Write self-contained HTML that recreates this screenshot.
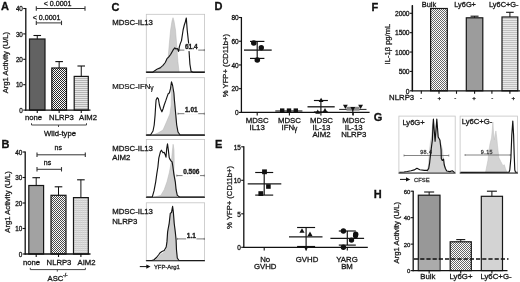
<!DOCTYPE html>
<html><head><meta charset="utf-8"><style>
html,body{margin:0;padding:0;background:#fff;width:520px;height:282px;overflow:hidden}
svg{display:block;filter:blur(0.3px);font-family:"Liberation Sans",sans-serif}
</style></head><body>
<svg width="520" height="282" viewBox="0 0 520 282">
<defs>
<pattern id="chk" width="2" height="2" patternUnits="userSpaceOnUse"><rect width="2" height="2" fill="#fdfdfd"/><rect width="1" height="1" fill="#262626"/><rect x="1" y="1" width="1" height="1" fill="#262626"/></pattern>
<pattern id="chkL" width="2" height="2" patternUnits="userSpaceOnUse"><rect width="2" height="2" fill="#fdfdfd"/><rect width="1" height="1" fill="#666"/><rect x="1" y="1" width="1" height="1" fill="#666"/></pattern>
<pattern id="chk2" width="2" height="2" patternUnits="userSpaceOnUse"><rect width="2" height="2" fill="#fafafa"/><rect width="1" height="1" fill="#4a4a4a"/><rect x="1" y="1" width="1" height="1" fill="#4a4a4a"/></pattern>
<pattern id="hstr" width="2" height="2" patternUnits="userSpaceOnUse"><rect width="2" height="2" fill="#e6e6e6"/><rect width="2" height="1" fill="#b4b4b4"/></pattern>
<pattern id="hstr2" width="2" height="2" patternUnits="userSpaceOnUse"><rect width="2" height="2" fill="#e8e8e8"/><rect width="2" height="1" fill="#c0c0c0"/></pattern>
<pattern id="grid" width="2" height="2" patternUnits="userSpaceOnUse"><rect width="2" height="2" fill="#e4e4e4"/><rect width="2" height="1" fill="#cacaca"/><rect width="0.5" height="2" fill="#d4d4d4"/></pattern>
</defs>
<rect width="520" height="282" fill="#fff"/>
<text x="1" y="10.3" font-size="11" text-anchor="start" font-weight="bold" fill="#111" stroke="#111" stroke-width="0.3" >A</text><text x="1.6" y="148.3" font-size="11" text-anchor="start" font-weight="bold" fill="#111" stroke="#111" stroke-width="0.3" >B</text><text x="111.6" y="10.9" font-size="11" text-anchor="start" font-weight="bold" fill="#111" stroke="#111" stroke-width="0.3" >C</text><text x="214.5" y="10.2" font-size="11" text-anchor="start" font-weight="bold" fill="#111" stroke="#111" stroke-width="0.3" >D</text><text x="215" y="148.1" font-size="11" text-anchor="start" font-weight="bold" fill="#111" stroke="#111" stroke-width="0.3" >E</text><text x="371.5" y="10.5" font-size="11" text-anchor="start" font-weight="bold" fill="#111" stroke="#111" stroke-width="0.3" >F</text><text x="373.8" y="121.3" font-size="11" text-anchor="start" font-weight="bold" fill="#111" stroke="#111" stroke-width="0.3" >G</text><text x="373.7" y="198" font-size="11" text-anchor="start" font-weight="bold" fill="#111" stroke="#111" stroke-width="0.3" >H</text><line x1="25.8" y1="8" x2="25.8" y2="110.7" stroke="#111" stroke-width="1.3" /><line x1="23.2" y1="110.1" x2="25.8" y2="110.1" stroke="#111" stroke-width="1.1" /><text x="22.75" y="112.78" font-size="6.37" text-anchor="end" font-weight="normal" fill="#161616" stroke="#161616" stroke-width="0.3" letter-spacing="-0.15">0</text><line x1="23.2" y1="84.7" x2="25.8" y2="84.7" stroke="#111" stroke-width="1.1" /><text x="22.75" y="87.38" font-size="6.37" text-anchor="end" font-weight="normal" fill="#161616" stroke="#161616" stroke-width="0.3" letter-spacing="-0.15">10</text><line x1="23.2" y1="59.3" x2="25.8" y2="59.3" stroke="#111" stroke-width="1.1" /><text x="22.75" y="61.98" font-size="6.37" text-anchor="end" font-weight="normal" fill="#161616" stroke="#161616" stroke-width="0.3" letter-spacing="-0.15">20</text><line x1="23.2" y1="33.9" x2="25.8" y2="33.9" stroke="#111" stroke-width="1.1" /><text x="22.75" y="36.58" font-size="6.37" text-anchor="end" font-weight="normal" fill="#161616" stroke="#161616" stroke-width="0.3" letter-spacing="-0.15">30</text><line x1="23.2" y1="8.5" x2="25.8" y2="8.5" stroke="#111" stroke-width="1.1" /><text x="22.75" y="11.18" font-size="6.37" text-anchor="end" font-weight="normal" fill="#161616" stroke="#161616" stroke-width="0.3" letter-spacing="-0.15">40</text><line x1="37.25" y1="39" x2="37.25" y2="35.5" stroke="#111" stroke-width="1.0" /><line x1="33.45" y1="35.5" x2="41.05" y2="35.5" stroke="#111" stroke-width="1.1" /><rect x="29.5" y="39" width="15.5" height="71.1" fill="#626262" stroke="#161616" stroke-width="1.2"/><line x1="37.25" y1="110.1" x2="37.25" y2="113.1" stroke="#111" stroke-width="1.1" /><line x1="59.15" y1="68" x2="59.15" y2="61.6" stroke="#111" stroke-width="1.0" /><line x1="55.35" y1="61.6" x2="62.95" y2="61.6" stroke="#111" stroke-width="1.1" /><rect x="51.8" y="68" width="14.7" height="42.1" fill="url(#chk)" stroke="#161616" stroke-width="1.2"/><line x1="59.15" y1="110.1" x2="59.15" y2="113.1" stroke="#111" stroke-width="1.1" /><line x1="81.25" y1="76.4" x2="81.25" y2="66" stroke="#111" stroke-width="1.0" /><line x1="77.45" y1="66" x2="85.05" y2="66" stroke="#111" stroke-width="1.1" /><rect x="74.2" y="76.4" width="14.1" height="33.7" fill="url(#hstr)" stroke="#161616" stroke-width="1.2"/><line x1="81.25" y1="110.1" x2="81.25" y2="113.1" stroke="#111" stroke-width="1.1" /><line x1="25.2" y1="110.1" x2="90.5" y2="110.1" stroke="#111" stroke-width="1.3" /><line x1="36.3" y1="8.5" x2="85" y2="8.5" stroke="#333" stroke-width="1.0" /><line x1="36.3" y1="6.3" x2="36.3" y2="10.7" stroke="#333" stroke-width="1.1" /><line x1="85" y1="6.3" x2="85" y2="10.7" stroke="#333" stroke-width="1.1" /><text x="57.6" y="6.1" font-size="7.1" text-anchor="middle" font-weight="normal" fill="#161616" stroke="#161616" stroke-width="0.3" >&lt; 0.0001</text><line x1="36.3" y1="22.9" x2="61.5" y2="22.9" stroke="#333" stroke-width="1.0" /><line x1="36.3" y1="20.7" x2="36.3" y2="25.1" stroke="#333" stroke-width="1.1" /><line x1="61.5" y1="20.7" x2="61.5" y2="25.1" stroke="#333" stroke-width="1.1" /><text x="46.6" y="20.1" font-size="7.1" text-anchor="middle" font-weight="normal" fill="#161616" stroke="#161616" stroke-width="0.3" >&lt; 0.0001</text><text x="33.5" y="120.3" font-size="7.7" text-anchor="middle" font-weight="normal" fill="#161616" stroke="#161616" stroke-width="0.3" >none</text><text x="61.5" y="120.3" font-size="7.7" text-anchor="middle" font-weight="normal" fill="#161616" stroke="#161616" stroke-width="0.3" >NLRP3</text><text x="88.1" y="120.3" font-size="7.7" text-anchor="middle" font-weight="normal" fill="#161616" stroke="#161616" stroke-width="0.3" >AIM2</text><path d="M31.5,123.2 L31.5,125 L86.5,125 L86.5,123.2 M58.5,125 L58.5,127" fill="none" stroke="#333" stroke-width="0.9"/><text x="60" y="136.2" font-size="7.7" text-anchor="middle" font-weight="normal" fill="#161616" stroke="#161616" stroke-width="0.3" >Wild-type</text><text x="0" y="0" font-size="7.7" text-anchor="middle" fill="#222" stroke="#222" stroke-width="0.3" transform="translate(7.8,62.6) rotate(-90)">Arg1 Activity (U/L)</text><line x1="25.2" y1="151.5" x2="25.2" y2="254.6" stroke="#111" stroke-width="1.3" /><line x1="22.6" y1="254" x2="25.2" y2="254" stroke="#111" stroke-width="1.1" /><text x="22.15" y="256.68" font-size="6.37" text-anchor="end" font-weight="normal" fill="#161616" stroke="#161616" stroke-width="0.3" letter-spacing="-0.15">0</text><line x1="22.6" y1="228.5" x2="25.2" y2="228.5" stroke="#111" stroke-width="1.1" /><text x="22.15" y="231.18" font-size="6.37" text-anchor="end" font-weight="normal" fill="#161616" stroke="#161616" stroke-width="0.3" letter-spacing="-0.15">10</text><line x1="22.6" y1="203" x2="25.2" y2="203" stroke="#111" stroke-width="1.1" /><text x="22.15" y="205.68" font-size="6.37" text-anchor="end" font-weight="normal" fill="#161616" stroke="#161616" stroke-width="0.3" letter-spacing="-0.15">20</text><line x1="22.6" y1="177.5" x2="25.2" y2="177.5" stroke="#111" stroke-width="1.1" /><text x="22.15" y="180.18" font-size="6.37" text-anchor="end" font-weight="normal" fill="#161616" stroke="#161616" stroke-width="0.3" letter-spacing="-0.15">30</text><line x1="22.6" y1="152" x2="25.2" y2="152" stroke="#111" stroke-width="1.1" /><text x="22.15" y="154.68" font-size="6.37" text-anchor="end" font-weight="normal" fill="#161616" stroke="#161616" stroke-width="0.3" letter-spacing="-0.15">40</text><line x1="36.2" y1="185.5" x2="36.2" y2="177.7" stroke="#111" stroke-width="1.0" /><line x1="32.4" y1="177.7" x2="40" y2="177.7" stroke="#111" stroke-width="1.1" /><rect x="28.8" y="185.5" width="14.8" height="68.5" fill="#a2a2a2" stroke="#161616" stroke-width="1.2"/><line x1="36.2" y1="254" x2="36.2" y2="257" stroke="#111" stroke-width="1.1" /><line x1="58.5" y1="195.3" x2="58.5" y2="186.8" stroke="#111" stroke-width="1.0" /><line x1="54.7" y1="186.8" x2="62.3" y2="186.8" stroke="#111" stroke-width="1.1" /><rect x="51" y="195.3" width="15" height="58.7" fill="url(#chk2)" stroke="#161616" stroke-width="1.2"/><line x1="58.5" y1="254" x2="58.5" y2="257" stroke="#111" stroke-width="1.1" /><line x1="80.9" y1="197.6" x2="80.9" y2="179.8" stroke="#111" stroke-width="1.0" /><line x1="77.1" y1="179.8" x2="84.7" y2="179.8" stroke="#111" stroke-width="1.1" /><rect x="73.5" y="197.6" width="14.8" height="56.4" fill="url(#grid)" stroke="#161616" stroke-width="1.2"/><line x1="80.9" y1="254" x2="80.9" y2="257" stroke="#111" stroke-width="1.1" /><line x1="24.6" y1="254" x2="90.5" y2="254" stroke="#111" stroke-width="1.3" /><line x1="37" y1="154.8" x2="85.3" y2="154.8" stroke="#333" stroke-width="1.0" /><line x1="37" y1="152.6" x2="37" y2="157" stroke="#333" stroke-width="1.1" /><line x1="85.3" y1="152.6" x2="85.3" y2="157" stroke="#333" stroke-width="1.1" /><text x="58.2" y="149.8" font-size="7.0" text-anchor="middle" font-weight="normal" fill="#161616" stroke="#161616" stroke-width="0.3" >ns</text><line x1="37" y1="169.3" x2="61.5" y2="169.3" stroke="#333" stroke-width="1.0" /><line x1="37" y1="167.1" x2="37" y2="171.5" stroke="#333" stroke-width="1.1" /><line x1="61.5" y1="167.1" x2="61.5" y2="171.5" stroke="#333" stroke-width="1.1" /><text x="47.5" y="165.3" font-size="7.0" text-anchor="middle" font-weight="normal" fill="#161616" stroke="#161616" stroke-width="0.3" >ns</text><text x="31.5" y="264.5" font-size="7.7" text-anchor="middle" font-weight="normal" fill="#161616" stroke="#161616" stroke-width="0.3" >none</text><text x="59" y="264.5" font-size="7.7" text-anchor="middle" font-weight="normal" fill="#161616" stroke="#161616" stroke-width="0.3" >NLRP3</text><text x="86.5" y="264.5" font-size="7.7" text-anchor="middle" font-weight="normal" fill="#161616" stroke="#161616" stroke-width="0.3" >AIM2</text><path d="M30.3,267.8 L30.3,269.6 L85.4,269.6 L85.4,267.8 M57.3,269.6 L57.3,271.6" fill="none" stroke="#333" stroke-width="0.9"/><text x="47.6" y="281.3" font-size="7.7" text-anchor="start" font-weight="normal" fill="#161616" stroke="#161616" stroke-width="0.3" >ASC</text><text x="63" y="277.4" font-size="5.0" text-anchor="start" font-weight="normal" fill="#161616" stroke="#161616" stroke-width="0.3" >-/-</text><text x="0" y="0" font-size="7.7" text-anchor="middle" fill="#222" stroke="#222" stroke-width="0.3" transform="translate(10.2,202) rotate(-90)">Arg1 Activity (U/L)</text><rect x="146.3" y="14.3" width="58.3" height="57.8" fill="#fff" stroke="#c4c4c4" stroke-width="0.8"/><polyline points="154,72.5 158,70 162,67.5 166,63 168,59 169.3,44 170.6,30 172,21 173,17.7 174,21 175.5,30 176.6,44 177.9,61.7 179.1,72.5" fill="#cdcdcd" stroke="#b5b5b5" stroke-width="0.5" stroke-linejoin="round" /><polyline points="146.5,72.3 152.8,72.3 155.1,70.4 157.4,69 160.2,67.9 163,65.3 165.3,62.5 167,58.7 168.8,56.9 170.6,54.5 173,50.2 174.8,47.8 176,49 177.3,48.4 178.5,51.4 179.4,46.6 180.3,43.6 181.5,40.6 183.1,30 184.3,25 185.3,22 186.3,18 187.2,30 188.7,44 189.1,52 189.9,64.1 191.1,71.3 192.9,72.3 204.4,72.3" fill="none" stroke="#151515" stroke-width="1.15" stroke-linejoin="round" /><line x1="145.9" y1="72.1" x2="205" y2="72.1" stroke="#1c1c1c" stroke-width="1.1" /><line x1="179.6" y1="50.1" x2="204.3" y2="50.1" stroke="#555" stroke-width="0.8" /><line x1="179.6" y1="49.1" x2="179.6" y2="51.1" stroke="#555" stroke-width="0.7" /><line x1="204.3" y1="49.1" x2="204.3" y2="51.1" stroke="#555" stroke-width="0.7" /><rect x="184.38" y="43.6" width="13.85" height="7.5" fill="#fff" stroke="none" stroke-width="1"/><text x="191.3" y="48.7" font-size="6.5" text-anchor="middle" font-weight="bold" fill="#1a1a1a" stroke="#1a1a1a" stroke-width="0.3" >61.4</text><rect x="146.3" y="77.7" width="58.3" height="57.4" fill="#fff" stroke="#c4c4c4" stroke-width="0.8"/><polyline points="152.8,135.2 158,133 163,130 166.5,122 169.9,114 171.2,105 171.3,95 171.6,86.6 173,90 174,98 175.5,115 176.5,125 178,133 179,135.2" fill="#cdcdcd" stroke="#b5b5b5" stroke-width="0.5" stroke-linejoin="round" /><polyline points="146.5,135 150.5,135 153,131 154.2,125 155.1,115 155.7,105 156.1,100 157.2,97.7 158.4,99 159.4,105 160.4,108.5 161.9,111.8 163,109 164.2,105 165.7,100.9 167.3,96.1 168.3,93.5 169.4,93 170.5,88.7 171.5,81.8 172.6,85.5 173.9,93 174.4,100 174.7,103 175.8,115 176.7,125 178,132 180.1,135 204.4,135" fill="none" stroke="#151515" stroke-width="1.15" stroke-linejoin="round" /><line x1="145.9" y1="135.1" x2="205" y2="135.1" stroke="#1c1c1c" stroke-width="1.1" /><line x1="178" y1="113.7" x2="204.3" y2="113.7" stroke="#555" stroke-width="0.8" /><line x1="178" y1="112.7" x2="178" y2="114.7" stroke="#555" stroke-width="0.7" /><line x1="204.3" y1="112.7" x2="204.3" y2="114.7" stroke="#555" stroke-width="0.7" /><rect x="184.38" y="107.2" width="13.85" height="7.5" fill="#fff" stroke="none" stroke-width="1"/><text x="191.3" y="112.3" font-size="6.5" text-anchor="middle" font-weight="bold" fill="#1a1a1a" stroke="#1a1a1a" stroke-width="0.3" >1.01</text><rect x="146.3" y="139.4" width="58.3" height="57.8" fill="#fff" stroke="#c4c4c4" stroke-width="0.8"/><polyline points="154,197.2 160.8,195.4 164.2,189.7 167,181.8 169.3,172.7 170.4,167 171.5,160 172.5,150 173.1,144.3 174,150 174.2,160 174,170 175,180 176.1,192 176.7,197.2" fill="#cdcdcd" stroke="#b5b5b5" stroke-width="0.5" stroke-linejoin="round" /><polyline points="146.5,197 151,197 152.3,196.8 154,190.9 155.7,181.8 156.8,173.8 157.9,167 158.8,158.1 160.4,151.8 161.4,150.2 163,152.8 164.1,152.3 165.1,154.4 166,157.1 166.7,148.6 167.5,143.8 168.3,149.6 169.2,157.6 169.9,159.2 171,160.8 172.1,161.9 172.8,166 173.8,173.8 175.3,181.8 176.1,189.7 177.3,195.4 179.5,197 204.4,197" fill="none" stroke="#151515" stroke-width="1.15" stroke-linejoin="round" /><line x1="145.9" y1="197.2" x2="205" y2="197.2" stroke="#1c1c1c" stroke-width="1.1" /><line x1="176.8" y1="175.6" x2="204.3" y2="175.6" stroke="#555" stroke-width="0.8" /><line x1="176.8" y1="174.6" x2="176.8" y2="176.6" stroke="#555" stroke-width="0.7" /><line x1="204.3" y1="174.6" x2="204.3" y2="176.6" stroke="#555" stroke-width="0.7" /><rect x="182.57" y="169.1" width="17.46" height="7.5" fill="#fff" stroke="none" stroke-width="1"/><text x="191.3" y="174.2" font-size="6.5" text-anchor="middle" font-weight="bold" fill="#1a1a1a" stroke="#1a1a1a" stroke-width="0.3" >0.506</text><rect x="146.3" y="202.8" width="58.3" height="58" fill="#fff" stroke="#c4c4c4" stroke-width="0.8"/><polyline points="155.1,260.7 160.8,254.4 164.2,252.2 166.5,249.3 167.2,241 167.8,232 169.2,224 170.5,215 171.5,213 172.5,208 173.3,213 174.1,224 175.1,232 175.9,240 176.3,250 177,258 178.5,260.7" fill="#cdcdcd" stroke="#b5b5b5" stroke-width="0.5" stroke-linejoin="round" /><polyline points="146.5,260.5 151.7,260.5 154,259.8 156.2,257.8 158.5,255 160.2,252.7 161.9,251.6 164.2,250.5 166.2,247 167,241.4 167.6,232 168.3,228 169.2,223.3 170.3,213.2 171.5,212.6 172.6,206.3 173.4,212.6 174.2,223.3 175.3,232 176.1,240 176.5,250 177.3,258 179,260.5 204.4,260.5" fill="none" stroke="#151515" stroke-width="1.15" stroke-linejoin="round" /><line x1="145.9" y1="260.8" x2="205" y2="260.8" stroke="#1c1c1c" stroke-width="1.1" /><line x1="177.3" y1="238.9" x2="204.3" y2="238.9" stroke="#555" stroke-width="0.8" /><line x1="177.3" y1="237.9" x2="177.3" y2="239.9" stroke="#555" stroke-width="0.7" /><line x1="204.3" y1="237.9" x2="204.3" y2="239.9" stroke="#555" stroke-width="0.7" /><rect x="186.18" y="232.4" width="10.23" height="7.5" fill="#fff" stroke="none" stroke-width="1"/><text x="191.3" y="237.5" font-size="6.5" text-anchor="middle" font-weight="bold" fill="#1a1a1a" stroke="#1a1a1a" stroke-width="0.3" >1.1</text><text x="112.2" y="25.4" font-size="7.8" text-anchor="start" font-weight="normal" fill="#161616" stroke="#161616" stroke-width="0.3" >MDSC-IL13</text><text x="112.2" y="151.2" font-size="7.8" text-anchor="start" font-weight="normal" fill="#161616" stroke="#161616" stroke-width="0.3" >MDSC-IL13</text><text x="112.2" y="160.3" font-size="7.8" text-anchor="start" font-weight="normal" fill="#161616" stroke="#161616" stroke-width="0.3" >AIM2</text><text x="112.2" y="214.2" font-size="7.8" text-anchor="start" font-weight="normal" fill="#161616" stroke="#161616" stroke-width="0.3" >MDSC-IL13</text><text x="112.2" y="223.9" font-size="7.8" text-anchor="start" font-weight="normal" fill="#161616" stroke="#161616" stroke-width="0.3" >NLRP3</text><text x="112.2" y="88.9" font-size="7.8" fill="#161616" stroke="#161616" stroke-width="0.22">MDSC-IFN<tspan font-size="6.6" dy="0.8">&#947;</tspan></text><line x1="139.8" y1="266.6" x2="147" y2="266.6" stroke="#111" stroke-width="1.0" /><path d="M146.3,264.5 L150.5,266.6 L146.3,268.7 Z" fill="#111"/><text x="153.9" y="269.3" font-size="5.9" text-anchor="start" font-weight="normal" fill="#2a2a2a" stroke="#2a2a2a" stroke-width="0.3" >YFP-Arg1</text><line x1="241.4" y1="17" x2="241.4" y2="113" stroke="#111" stroke-width="1.3" /><line x1="238.8" y1="112.4" x2="241.4" y2="112.4" stroke="#111" stroke-width="1.1" /><text x="238.35" y="115.12" font-size="6.48" text-anchor="end" font-weight="normal" fill="#161616" stroke="#161616" stroke-width="0.3" letter-spacing="-0.15">0</text><line x1="238.8" y1="88.68" x2="241.4" y2="88.68" stroke="#111" stroke-width="1.1" /><text x="238.35" y="91.39" font-size="6.48" text-anchor="end" font-weight="normal" fill="#161616" stroke="#161616" stroke-width="0.3" letter-spacing="-0.15">20</text><line x1="238.8" y1="64.95" x2="241.4" y2="64.95" stroke="#111" stroke-width="1.1" /><text x="238.35" y="67.67" font-size="6.48" text-anchor="end" font-weight="normal" fill="#161616" stroke="#161616" stroke-width="0.3" letter-spacing="-0.15">40</text><line x1="238.8" y1="41.23" x2="241.4" y2="41.23" stroke="#111" stroke-width="1.1" /><text x="238.35" y="43.94" font-size="6.48" text-anchor="end" font-weight="normal" fill="#161616" stroke="#161616" stroke-width="0.3" letter-spacing="-0.15">60</text><line x1="238.8" y1="17.5" x2="241.4" y2="17.5" stroke="#111" stroke-width="1.1" /><text x="238.35" y="20.22" font-size="6.48" text-anchor="end" font-weight="normal" fill="#161616" stroke="#161616" stroke-width="0.3" letter-spacing="-0.15">80</text><line x1="240.8" y1="112.4" x2="369.6" y2="112.4" stroke="#111" stroke-width="1.3" /><line x1="257.2" y1="112.4" x2="257.2" y2="115.5" stroke="#111" stroke-width="1.1" /><line x1="289.4" y1="112.4" x2="289.4" y2="115.5" stroke="#111" stroke-width="1.1" /><line x1="320.9" y1="112.4" x2="320.9" y2="115.5" stroke="#111" stroke-width="1.1" /><line x1="353.2" y1="112.4" x2="353.2" y2="115.5" stroke="#111" stroke-width="1.1" /><line x1="257.2" y1="41.4" x2="257.2" y2="58.4" stroke="#111" stroke-width="1.15" /><line x1="250" y1="41.4" x2="264.4" y2="41.4" stroke="#111" stroke-width="1.15" /><line x1="250" y1="58.4" x2="264.4" y2="58.4" stroke="#111" stroke-width="1.15" /><line x1="244" y1="50.1" x2="271.7" y2="50.1" stroke="#1a1a1a" stroke-width="1.35" /><circle cx="253.8" cy="43" r="2.8" fill="#111"/><circle cx="261.3" cy="47.8" r="2.7" fill="#111"/><circle cx="257.3" cy="60" r="2.8" fill="#111"/><line x1="275.3" y1="111" x2="302.4" y2="111" stroke="#222" stroke-width="1.2" /><rect x="280" y="108.4" width="4.4" height="4.4" fill="#111"/><rect x="286.8" y="108.4" width="4.4" height="4.4" fill="#111"/><rect x="293.6" y="108.4" width="4.4" height="4.4" fill="#111"/><line x1="320.9" y1="100.5" x2="320.9" y2="112" stroke="#111" stroke-width="1.15" /><line x1="313.9" y1="100.5" x2="327.9" y2="100.5" stroke="#111" stroke-width="1.15" /><line x1="313.9" y1="112" x2="327.9" y2="112" stroke="#111" stroke-width="1.15" /><line x1="307.5" y1="106.8" x2="334.7" y2="106.8" stroke="#1a1a1a" stroke-width="1.35" /><path d="M321.1,97.64 L323.5,101.96 L318.7,101.96 Z" fill="#111"/><path d="M317.7,109.44 L320.1,113.76 L315.3,113.76 Z" fill="#111"/><path d="M325,108.04 L327.4,112.36 L322.6,112.36 Z" fill="#111"/><line x1="339.2" y1="109.4" x2="366.5" y2="109.4" stroke="#222" stroke-width="1.0" /><rect x="346.5" y="106.8" width="13" height="3.9" fill="#8a8a8a" stroke="none" stroke-width="1"/><line x1="352.8" y1="107" x2="352.8" y2="115.3" stroke="#111" stroke-width="1.1" /><path d="M345.4,109.06 L347.8,104.74 L343,104.74 Z" fill="#111"/><path d="M352.8,111.36 L355.2,107.04 L350.4,107.04 Z" fill="#111"/><path d="M360.6,109.06 L363,104.74 L358.2,104.74 Z" fill="#111"/><text x="257.2" y="122.8" font-size="7.8" text-anchor="middle" font-weight="normal" fill="#161616" stroke="#161616" stroke-width="0.3" >MDSC</text><text x="257.2" y="130" font-size="7.8" text-anchor="middle" font-weight="normal" fill="#161616" stroke="#161616" stroke-width="0.3" >IL13</text><text x="289.4" y="122.8" font-size="7.8" text-anchor="middle" font-weight="normal" fill="#161616" stroke="#161616" stroke-width="0.3" >MDSC</text><text x="289.4" y="130" font-size="7.8" text-anchor="middle" font-weight="normal" fill="#161616" stroke="#161616" stroke-width="0.3" >IFN<tspan font-size="6.6" dy="0.8">&#947;</tspan></text><text x="321.5" y="122.8" font-size="7.8" text-anchor="middle" font-weight="normal" fill="#161616" stroke="#161616" stroke-width="0.3" >MDSC</text><text x="321.5" y="130" font-size="7.8" text-anchor="middle" font-weight="normal" fill="#161616" stroke="#161616" stroke-width="0.3" >IL-13</text><text x="321.5" y="137.2" font-size="7.8" text-anchor="middle" font-weight="normal" fill="#161616" stroke="#161616" stroke-width="0.3" >AIM2</text><text x="353.7" y="122.8" font-size="7.8" text-anchor="middle" font-weight="normal" fill="#161616" stroke="#161616" stroke-width="0.3" >MDSC</text><text x="353.7" y="130" font-size="7.8" text-anchor="middle" font-weight="normal" fill="#161616" stroke="#161616" stroke-width="0.3" >IL-13</text><text x="353.7" y="137.2" font-size="7.8" text-anchor="middle" font-weight="normal" fill="#161616" stroke="#161616" stroke-width="0.3" >NLRP3</text><text x="0" y="0" font-size="7.7" text-anchor="middle" fill="#222" stroke="#222" stroke-width="0.3" transform="translate(227.5,65.6) rotate(-90)">% YFP+ (CD11b+)</text><line x1="243.8" y1="146.3" x2="243.8" y2="247.9" stroke="#111" stroke-width="1.3" /><line x1="241.2" y1="247.3" x2="243.8" y2="247.3" stroke="#111" stroke-width="1.1" /><text x="240.75" y="250.02" font-size="6.48" text-anchor="end" font-weight="normal" fill="#161616" stroke="#161616" stroke-width="0.3" letter-spacing="-0.15">0</text><line x1="241.2" y1="213.8" x2="243.8" y2="213.8" stroke="#111" stroke-width="1.1" /><text x="240.75" y="216.52" font-size="6.48" text-anchor="end" font-weight="normal" fill="#161616" stroke="#161616" stroke-width="0.3" letter-spacing="-0.15">5</text><line x1="241.2" y1="180.3" x2="243.8" y2="180.3" stroke="#111" stroke-width="1.1" /><text x="240.75" y="183.02" font-size="6.48" text-anchor="end" font-weight="normal" fill="#161616" stroke="#161616" stroke-width="0.3" letter-spacing="-0.15">10</text><line x1="241.2" y1="146.8" x2="243.8" y2="146.8" stroke="#111" stroke-width="1.1" /><text x="240.75" y="149.52" font-size="6.48" text-anchor="end" font-weight="normal" fill="#161616" stroke="#161616" stroke-width="0.3" letter-spacing="-0.15">15</text><line x1="243.2" y1="247.3" x2="367.8" y2="247.3" stroke="#111" stroke-width="1.3" /><line x1="264.2" y1="247.3" x2="264.2" y2="250.5" stroke="#111" stroke-width="1.1" /><line x1="306.1" y1="247.3" x2="306.1" y2="250.5" stroke="#111" stroke-width="1.1" /><line x1="347.3" y1="247.3" x2="347.3" y2="250.5" stroke="#111" stroke-width="1.1" /><line x1="264.2" y1="172.5" x2="264.2" y2="195.1" stroke="#111" stroke-width="1.15" /><line x1="255.2" y1="172.5" x2="273.2" y2="172.5" stroke="#111" stroke-width="1.15" /><line x1="255.2" y1="195.1" x2="273.2" y2="195.1" stroke="#111" stroke-width="1.15" /><line x1="247.7" y1="183.9" x2="281.3" y2="183.9" stroke="#1a1a1a" stroke-width="1.35" /><rect x="262.1" y="169.4" width="4.8" height="4.8" fill="#111"/><rect x="266.1" y="184.2" width="4.6" height="4.6" fill="#111"/><rect x="258.4" y="191.2" width="4.8" height="4.8" fill="#111"/><line x1="306.1" y1="227.5" x2="306.1" y2="246.5" stroke="#111" stroke-width="1.15" /><line x1="297.1" y1="227.5" x2="315.1" y2="227.5" stroke="#111" stroke-width="1.15" /><line x1="297.1" y1="246.5" x2="315.1" y2="246.5" stroke="#111" stroke-width="1.15" /><line x1="289" y1="236.8" x2="322.5" y2="236.8" stroke="#1a1a1a" stroke-width="1.35" /><path d="M302,228.16 L304.6,232.84 L299.4,232.84 Z" fill="#111"/><path d="M310,231.46 L312.6,236.14 L307.4,236.14 Z" fill="#111"/><path d="M306.1,250.76 L308.5,246.44 L303.7,246.44 Z" fill="#111"/><line x1="347.3" y1="231" x2="347.3" y2="245.1" stroke="#111" stroke-width="1.15" /><line x1="338.8" y1="231" x2="355.8" y2="231" stroke="#111" stroke-width="1.15" /><line x1="338.8" y1="245.1" x2="355.8" y2="245.1" stroke="#111" stroke-width="1.15" /><line x1="330.4" y1="238.3" x2="364.1" y2="238.3" stroke="#1a1a1a" stroke-width="1.35" /><circle cx="343.4" cy="231" r="2.7" fill="#111"/><circle cx="355.7" cy="234.2" r="2.7" fill="#111"/><circle cx="355.5" cy="235.8" r="2.6" fill="#111"/><circle cx="351.5" cy="240.1" r="2.7" fill="#111"/><circle cx="343.4" cy="247.3" r="2.7" fill="#111"/><text x="265.2" y="262.3" font-size="7.8" text-anchor="middle" font-weight="normal" fill="#161616" stroke="#161616" stroke-width="0.3" >No</text><text x="265.2" y="269.1" font-size="7.8" text-anchor="middle" font-weight="normal" fill="#161616" stroke="#161616" stroke-width="0.3" >GVHD</text><text x="307" y="262.3" font-size="7.8" text-anchor="middle" font-weight="normal" fill="#161616" stroke="#161616" stroke-width="0.3" >GVHD</text><text x="347" y="262.3" font-size="7.8" text-anchor="middle" font-weight="normal" fill="#161616" stroke="#161616" stroke-width="0.3" >YARG</text><text x="347" y="269.1" font-size="7.8" text-anchor="middle" font-weight="normal" fill="#161616" stroke="#161616" stroke-width="0.3" >BM</text><text x="0" y="0" font-size="7.65" text-anchor="middle" fill="#222" stroke="#222" stroke-width="0.3" transform="translate(231.7,197.4) rotate(-90)">% YFP+ (CD11b+)</text><line x1="412.4" y1="5.1" x2="412.4" y2="91.4" stroke="#111" stroke-width="1.3" /><line x1="409.8" y1="90.8" x2="412.4" y2="90.8" stroke="#111" stroke-width="1.1" /><text x="409.35" y="93.6" font-size="6.7" text-anchor="end" font-weight="normal" fill="#161616" stroke="#161616" stroke-width="0.3" letter-spacing="-0.15">0</text><line x1="409.8" y1="71.42" x2="412.4" y2="71.42" stroke="#111" stroke-width="1.1" /><text x="409.35" y="74.22" font-size="6.7" text-anchor="end" font-weight="normal" fill="#161616" stroke="#161616" stroke-width="0.3" letter-spacing="-0.15">500</text><line x1="409.8" y1="52.05" x2="412.4" y2="52.05" stroke="#111" stroke-width="1.1" /><text x="409.35" y="54.85" font-size="6.7" text-anchor="end" font-weight="normal" fill="#161616" stroke="#161616" stroke-width="0.3" letter-spacing="-0.15">1000</text><line x1="409.8" y1="32.67" x2="412.4" y2="32.67" stroke="#111" stroke-width="1.1" /><text x="409.35" y="35.47" font-size="6.7" text-anchor="end" font-weight="normal" fill="#161616" stroke="#161616" stroke-width="0.3" letter-spacing="-0.15">1500</text><line x1="409.8" y1="13.3" x2="412.4" y2="13.3" stroke="#111" stroke-width="1.1" /><text x="409.35" y="16.1" font-size="6.7" text-anchor="end" font-weight="normal" fill="#161616" stroke="#161616" stroke-width="0.3" letter-spacing="-0.15">2000</text><line x1="412.4" y1="5.6" x2="412.4" y2="90.8" stroke="#111" stroke-width="1.3" /><line x1="438.95" y1="8.5" x2="438.95" y2="8.5" stroke="#111" stroke-width="1.0" /><line x1="438.95" y1="8.5" x2="438.95" y2="8.5" stroke="#111" stroke-width="1.1" /><rect x="430.6" y="8.5" width="16.7" height="82.3" fill="url(#chkL)" stroke="#161616" stroke-width="1.2"/><line x1="474.55" y1="17.8" x2="474.55" y2="16.2" stroke="#111" stroke-width="1.0" /><line x1="470.55" y1="16.2" x2="478.55" y2="16.2" stroke="#111" stroke-width="1.1" /><rect x="466.3" y="17.8" width="16.5" height="73" fill="#9c9c9c" stroke="#161616" stroke-width="1.2"/><line x1="509.9" y1="17" x2="509.9" y2="12.3" stroke="#111" stroke-width="1.0" /><line x1="506.1" y1="12.3" x2="513.7" y2="12.3" stroke="#111" stroke-width="1.1" /><rect x="502" y="17" width="15.8" height="73.8" fill="url(#hstr2)" stroke="#161616" stroke-width="1.2"/><line x1="411.8" y1="90.8" x2="520" y2="90.8" stroke="#111" stroke-width="1.3" /><line x1="421.3" y1="90.8" x2="421.3" y2="93.8" stroke="#111" stroke-width="1.1" /><line x1="439" y1="90.8" x2="439" y2="93.8" stroke="#111" stroke-width="1.1" /><line x1="456.5" y1="90.8" x2="456.5" y2="93.8" stroke="#111" stroke-width="1.1" /><line x1="474.6" y1="90.8" x2="474.6" y2="93.8" stroke="#111" stroke-width="1.1" /><line x1="491.9" y1="90.8" x2="491.9" y2="93.8" stroke="#111" stroke-width="1.1" /><line x1="509.9" y1="90.8" x2="509.9" y2="93.8" stroke="#111" stroke-width="1.1" /><text x="421" y="99.6" font-size="6.2" text-anchor="middle" font-weight="normal" fill="#161616" stroke="#161616" stroke-width="0.3" >-</text><text x="439.2" y="99.6" font-size="6.2" text-anchor="middle" font-weight="normal" fill="#161616" stroke="#161616" stroke-width="0.3" >+</text><text x="455.3" y="99.6" font-size="6.2" text-anchor="middle" font-weight="normal" fill="#161616" stroke="#161616" stroke-width="0.3" >-</text><text x="474" y="99.6" font-size="6.2" text-anchor="middle" font-weight="normal" fill="#161616" stroke="#161616" stroke-width="0.3" >+</text><text x="492.3" y="99.6" font-size="6.2" text-anchor="middle" font-weight="normal" fill="#161616" stroke="#161616" stroke-width="0.3" >-</text><text x="513.2" y="99.6" font-size="6.2" text-anchor="middle" font-weight="normal" fill="#161616" stroke="#161616" stroke-width="0.3" >+</text><text x="414.2" y="99.9" font-size="7.8" text-anchor="end" font-weight="normal" fill="#161616" stroke="#161616" stroke-width="0.3" >NLRP3</text><text x="429" y="6.6" font-size="7.4" text-anchor="middle" font-weight="normal" fill="#161616" stroke="#161616" stroke-width="0.3" >Bulk</text><text x="465.1" y="6.6" font-size="7.4" text-anchor="middle" font-weight="normal" fill="#161616" stroke="#161616" stroke-width="0.3" >Ly6G+</text><text x="503.8" y="6.6" font-size="7.4" text-anchor="middle" font-weight="normal" fill="#161616" stroke="#161616" stroke-width="0.3" >Ly6C+G-</text><text x="0" y="0" font-size="7.6" text-anchor="middle" fill="#222" stroke="#222" stroke-width="0.3" transform="translate(389.6,44.1) rotate(-90)">IL-1&#946; pg/mL</text><rect x="398.9" y="116.1" width="56.3" height="56.7" fill="#fff" stroke="#c4c4c4" stroke-width="0.8"/><polyline points="427,172.5 428.5,165 429.5,150 430.5,142 431.5,137 432.5,126 433.4,122 434.5,136 435.5,132 436.8,122 438.2,138 440,140 441.5,146 442.5,150 443.5,160 445,168 446.5,172.5" fill="#d3d3d3" stroke="#bdbdbd" stroke-width="0.5" stroke-linejoin="round" /><line x1="404" y1="155.5" x2="448.8" y2="155.5" stroke="#666" stroke-width="0.8" /><line x1="404" y1="154.5" x2="404" y2="156.5" stroke="#666" stroke-width="0.7" /><line x1="448.8" y1="154.5" x2="448.8" y2="156.5" stroke="#666" stroke-width="0.7" /><text x="426.3" y="154.2" font-size="5.4" text-anchor="middle" font-weight="normal" fill="#444" stroke="#444" stroke-width="0.3" letter-spacing="0.45">98.4</text><polyline points="399.4,172.3 404,172 407.3,171.5 411,170.8 414.2,169.9 416.9,168.3 419.8,169.8 424.4,170.4 427.4,170.4 428.7,168.5 429.7,162.3 430.5,154.9 431.4,147.4 432.4,140 433,125 433.4,119.1 434.2,130 435.1,141.3 436,130 436.8,119.1 437.5,128 438.2,137 439.9,140 440.5,145 441.1,149.9 441.3,158.6 442.3,160.5 443.6,159.2 444.2,164.8 445.4,168.5 446.7,171 449.8,171.6 452.3,170.8 454.7,172.6" fill="none" stroke="#111" stroke-width="1.15" stroke-linejoin="round" /><line x1="398.5" y1="173.1" x2="455.6" y2="173.1" stroke="#222" stroke-width="1.0" /><rect x="460.1" y="116.1" width="57.5" height="56.7" fill="#fff" stroke="#c4c4c4" stroke-width="0.8"/><polyline points="485.5,172.5 487,165 488,160 489,150 490,143.8 491,140 491.5,137.9 492.3,130 492.9,122 493.5,132 494.3,139.9 495.1,135 495.9,130.9 496.8,138 497.5,145.8 498.9,157.8 500.9,161.7 502.9,165.7 504.3,164.7 505.5,168.7 507,172.5" fill="#d3d3d3" stroke="#bdbdbd" stroke-width="0.5" stroke-linejoin="round" /><line x1="465.1" y1="155" x2="510.3" y2="155" stroke="#666" stroke-width="0.8" /><line x1="465.1" y1="154" x2="465.1" y2="156" stroke="#666" stroke-width="0.7" /><line x1="510.3" y1="154" x2="510.3" y2="156" stroke="#666" stroke-width="0.7" /><text x="486.9" y="153.7" font-size="5.4" text-anchor="middle" font-weight="normal" fill="#444" stroke="#444" stroke-width="0.3" letter-spacing="0.45">9.15</text><polyline points="460.5,172.3 509,172.2 509.8,170 510.9,158 511.8,135 512.8,121 513.6,135 514.2,155 514.8,170 515.5,172.2 517.4,172.3" fill="none" stroke="#111" stroke-width="1.15" stroke-linejoin="round" /><line x1="459.7" y1="173.1" x2="518" y2="173.1" stroke="#222" stroke-width="1.0" /><text x="402.4" y="124.6" font-size="7.6" text-anchor="start" font-weight="normal" fill="#161616" stroke="#161616" stroke-width="0.3" >Ly6G+</text><text x="461.7" y="124.4" font-size="7.7" text-anchor="start" font-weight="normal" fill="#161616" stroke="#161616" stroke-width="0.3" >Ly6C+G-</text><line x1="400" y1="179.4" x2="406.8" y2="179.4" stroke="#111" stroke-width="1.0" /><path d="M406,177.3 L410.3,179.4 L406,181.5 Z" fill="#111"/><text x="414" y="181.5" font-size="5.9" text-anchor="start" font-weight="normal" fill="#3a3a3a" stroke="#3a3a3a" stroke-width="0.3" >CFSE</text><line x1="413.2" y1="190.7" x2="413.2" y2="271.2" stroke="#111" stroke-width="1.3" /><line x1="410.6" y1="270.6" x2="413.2" y2="270.6" stroke="#111" stroke-width="1.1" /><text x="410.15" y="273.13" font-size="5.94" text-anchor="end" font-weight="normal" fill="#161616" stroke="#161616" stroke-width="0.3" letter-spacing="-0.15">0</text><line x1="410.6" y1="244.13" x2="413.2" y2="244.13" stroke="#111" stroke-width="1.1" /><text x="410.15" y="246.66" font-size="5.94" text-anchor="end" font-weight="normal" fill="#161616" stroke="#161616" stroke-width="0.3" letter-spacing="-0.15">20</text><line x1="410.6" y1="217.67" x2="413.2" y2="217.67" stroke="#111" stroke-width="1.1" /><text x="410.15" y="220.19" font-size="5.94" text-anchor="end" font-weight="normal" fill="#161616" stroke="#161616" stroke-width="0.3" letter-spacing="-0.15">40</text><line x1="410.6" y1="191.2" x2="413.2" y2="191.2" stroke="#111" stroke-width="1.1" /><text x="410.15" y="193.73" font-size="5.94" text-anchor="end" font-weight="normal" fill="#161616" stroke="#161616" stroke-width="0.3" letter-spacing="-0.15">60</text><line x1="429.15" y1="195.2" x2="429.15" y2="192" stroke="#111" stroke-width="1.0" /><line x1="424.15" y1="192" x2="434.15" y2="192" stroke="#111" stroke-width="1.1" /><rect x="418.3" y="195.2" width="21.7" height="75.4" fill="#989898" stroke="#161616" stroke-width="1.2"/><line x1="429.15" y1="270.6" x2="429.15" y2="273.6" stroke="#111" stroke-width="1.1" /><rect x="418.8" y="259.8" width="20.7" height="10.3" fill="#ababab" stroke="none" stroke-width="1"/><line x1="460.75" y1="241.8" x2="460.75" y2="239.6" stroke="#111" stroke-width="1.0" /><line x1="456.25" y1="239.6" x2="465.25" y2="239.6" stroke="#111" stroke-width="1.1" /><rect x="450.2" y="241.8" width="21.1" height="28.8" fill="url(#chkL)" stroke="#161616" stroke-width="1.2"/><line x1="460.75" y1="270.6" x2="460.75" y2="273.6" stroke="#111" stroke-width="1.1" /><line x1="491.9" y1="196.3" x2="491.9" y2="191.2" stroke="#111" stroke-width="1.0" /><line x1="486.9" y1="191.2" x2="496.9" y2="191.2" stroke="#111" stroke-width="1.1" /><rect x="481.3" y="196.3" width="21.2" height="74.3" fill="#d3d3d3" stroke="#161616" stroke-width="1.2"/><line x1="491.9" y1="270.6" x2="491.9" y2="273.6" stroke="#111" stroke-width="1.1" /><line x1="412.6" y1="270.6" x2="507.5" y2="270.6" stroke="#111" stroke-width="1.3" /><line x1="414" y1="258.9" x2="508.5" y2="258.9" stroke="#111" stroke-width="1.5" stroke-dasharray="4.2 2"/><text x="427.8" y="279" font-size="7.8" text-anchor="middle" font-weight="normal" fill="#161616" stroke="#161616" stroke-width="0.3" >Bulk</text><text x="461" y="279" font-size="7.8" text-anchor="middle" font-weight="normal" fill="#161616" stroke="#161616" stroke-width="0.3" >Ly6G+</text><text x="496" y="279" font-size="7.8" text-anchor="middle" font-weight="normal" fill="#161616" stroke="#161616" stroke-width="0.3" >Ly6C+G-</text><text x="0" y="0" font-size="7.7" text-anchor="middle" fill="#222" stroke="#222" stroke-width="0.3" transform="translate(399.2,232.7) rotate(-90)">Arg1 Activity (U/L)</text>
</svg>
</body></html>
